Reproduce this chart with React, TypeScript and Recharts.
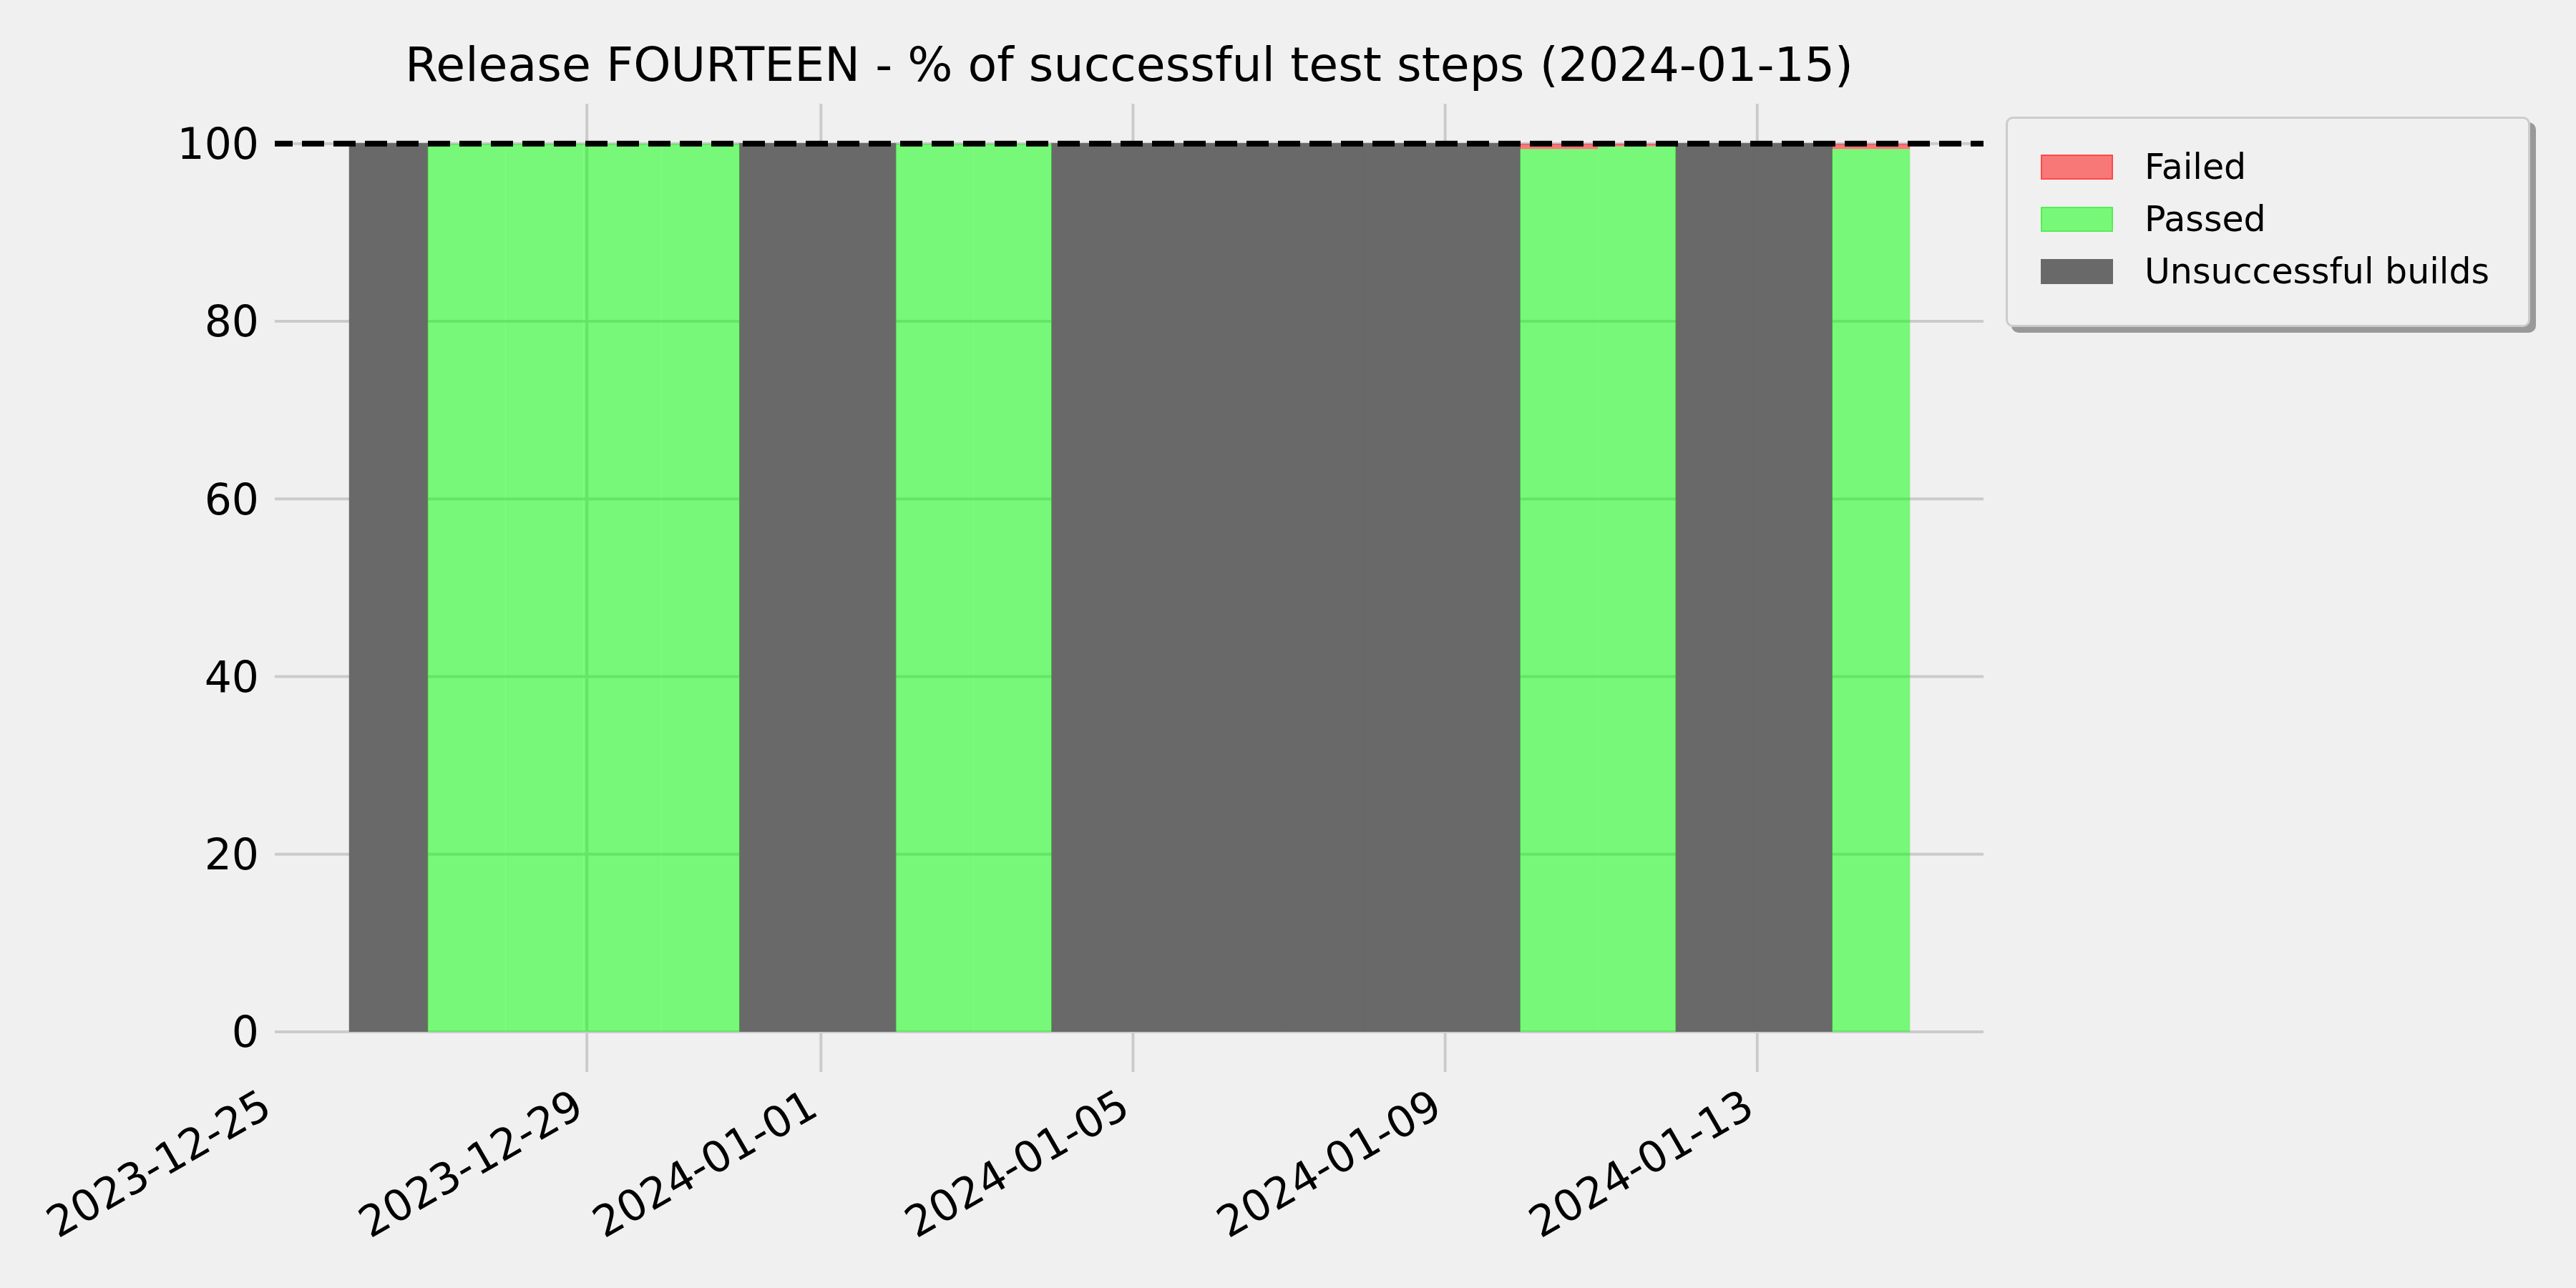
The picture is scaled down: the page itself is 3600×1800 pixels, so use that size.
import {
  ComposedChart,
  Bar,
  XAxis,
  YAxis,
  CartesianGrid,
  ReferenceLine,
  Legend,
} from 'recharts';

const DAY = 86400000;
const START = Date.parse('2023-12-25T00:00:00Z');

// one build per day, roughly late morning
const buildDates = [
  '2023-12-26', '2023-12-27', '2023-12-28', '2023-12-29', '2023-12-30',
  '2023-12-31', '2024-01-01', '2024-01-02', '2024-01-03', '2024-01-04',
  '2024-01-05', '2024-01-06', '2024-01-07', '2024-01-08', '2024-01-09',
  '2024-01-10', '2024-01-11', '2024-01-12', '2024-01-13', '2024-01-14',
];
const unsuccessful = [100, 0, 0, 0, 0, 100, 100, 0, 0, 100, 100, 100, 100, 100, 100, 0, 0, 100, 100, 0];
const passed = [0, 100, 100, 100, 100, 0, 0, 100, 100, 0, 0, 0, 0, 0, 0, 99.4, 99.7, 0, 0, 99.4];
const failed = [0, 0, 0, 0, 0, 0, 0, 0, 0, 0, 0, 0, 0, 0, 0, 0.6, 0.3, 0, 0, 0.6];

const xTickLabels = ['2023-12-25', '2023-12-29', '2024-01-01', '2024-01-05', '2024-01-09', '2024-01-13'];
const yTicks = [0, 20, 40, 60, 80, 100];

const toDays = (iso: string) => (Date.parse(iso) - START) / DAY;
const xTicks = xTickLabels.map((d) => toDays(d + 'T00:00:00Z'));
const X_MAX = 21.9;

const data = buildDates.map((d, i) => ({
  t: toDays(d + 'T11:00:00Z'),
  unsuccessful: unsuccessful[i],
  passed: passed[i],
  failed: failed[i],
}));

const FONT = '"DejaVu Sans", sans-serif';
const GRID = '#cbcbcb';

const legendItems = [
  { name: 'Failed', fill: '#f87878', border: '#ff4848' },
  { name: 'Passed', fill: '#78f878', border: '#55ee55' },
  { name: 'Unsuccessful builds', fill: '#696969', border: '#696969' },
];

function DateTick(props: any) {
  const { x, y, payload } = props;
  const label = new Date(START + payload.value * DAY).toISOString().slice(0, 10);
  const ax = x - 1;
  const ay = y + 59;
  return (
    <g>
      {payload.value !== 0 && (
        <line x1={x} x2={x} y1={y - 56} y2={y} stroke={GRID} strokeWidth={4} />
      )}
      <text
        x={ax}
        y={ay}
        textAnchor="end"
        fontSize={60}
        fontFamily={FONT}
        fill="#000"
        transform={`rotate(-30 ${ax} ${ay})`}
      >
        {label}
      </text>
    </g>
  );
}

function LegendBox() {
  return (
    <div
      style={{
        width: 733,
        height: 294,
        background: '#f0f0f0',
        border: '3px solid #cccccc',
        borderRadius: 10,
        boxShadow: '8px 8px 0 #999999',
        fontFamily: FONT,
        fontSize: 49,
        color: '#000',
        boxSizing: 'border-box',
        paddingTop: 31,
      }}
    >
      {legendItems.map((it) => (
        <div key={it.name} style={{ display: 'flex', alignItems: 'center', height: 73 }}>
          <div
            style={{
              width: 97,
              height: 31,
              marginLeft: 46,
              marginRight: 44,
              background: it.fill,
              border: `2px solid ${it.border}`,
            }}
          />
          <span style={{ lineHeight: '73px' }}>{it.name}</span>
        </div>
      ))}
    </div>
  );
}

export default function App() {
  return (
    <div style={{ position: 'absolute', left: 0, top: 0, width: 3600, height: 1800, background: '#f0f0f0' }}>
      <ComposedChart
        width={3600}
        height={1800}
        data={data}
        margin={{ top: 145, right: 828, bottom: 0, left: 0 }}
        barCategoryGap={0}
        barGap={0}
      >
        <text x={1578} y={113} textAnchor="middle" fontSize={66.5} fontFamily={FONT} fill="#000">
          Release FOURTEEN - % of successful test steps (2024-01-15)
        </text>
        <CartesianGrid
          stroke={GRID}
          strokeWidth={4}
          verticalValues={xTicks.slice(1)}
          horizontalValues={yTicks}
        />
        <XAxis
          dataKey="t"
          type="number"
          domain={[0, X_MAX]}
          ticks={xTicks}
          allowDataOverflow
          axisLine={false}
          tickLine={false}
          tickSize={56}
          tickMargin={0}
          height={358}
          tick={<DateTick />}
          interval={0}
        />
        <YAxis
          type="number"
          domain={[0, 104.5]}
          ticks={yTicks}
          allowDataOverflow
          axisLine={false}
          tickLine={false}
          tickSize={0}
          tickMargin={22}
          width={384}
          tick={{ fontSize: 60, fontFamily: FONT, fill: '#000' }}
          interval={0}
        />
        <Bar
          dataKey="unsuccessful"
          name="Unsuccessful builds"
          stackId="a"
          fill="#696969"
          stroke="#696969"
          strokeWidth={1.5}
          isAnimationActive={false}
        />
        <Bar dataKey="passed" name="Passed" stackId="a" fill="#00ff00" fillOpacity={0.5} isAnimationActive={false} />
        <Bar dataKey="failed" name="Failed" stackId="a" fill="#ff0000" fillOpacity={0.5} isAnimationActive={false} />
        <ReferenceLine y={100} stroke="#000" strokeWidth={8} strokeDasharray="31 13" strokeDashoffset={6} />
        <Legend
          layout="horizontal"
          verticalAlign="middle"
          align="center"
          content={<LegendBox />}
          wrapperStyle={{ position: 'absolute', left: 2803, top: 163, width: 'auto', height: 'auto' }}
        />
      </ComposedChart>
    </div>
  );
}
